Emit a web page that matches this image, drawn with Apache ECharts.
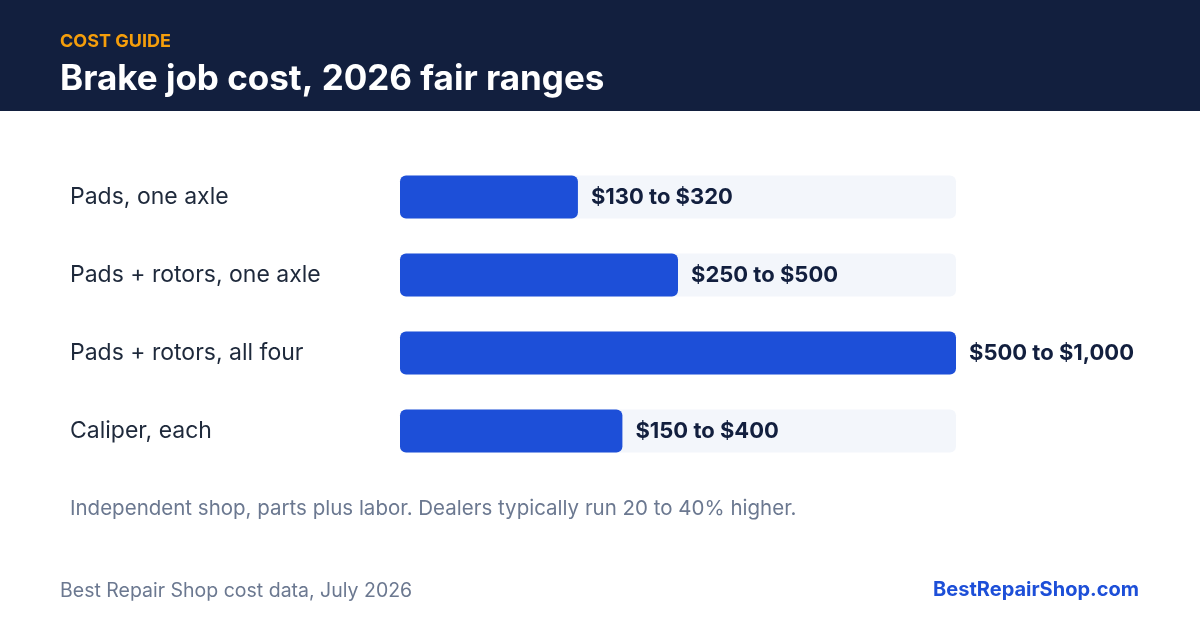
<!DOCTYPE html>
<html>
<head>
<meta charset="utf-8">
<script src="https://cdn.jsdelivr.net/npm/echarts@6/dist/echarts.min.js"></script>
<style>
  html, body { margin: 0; padding: 0; background: #ffffff; }
  #chart { width: 1200px; height: 630px; }
</style>
</head>
<body>
<div id="chart"></div>
<script>
const categories = ['Pads, one axle', 'Pads + rotors, one axle', 'Pads + rotors, all four', 'Caliper, each']
const lowCost = [130, 250, 500, 150]
const highCost = [320, 500, 1000, 400]

const fmt = (v) => '$' + v.toLocaleString('en-US')
const font = 'Inter, "Noto Sans", sans-serif'

const chart = echarts.init(document.getElementById('chart'))

const option = {
  backgroundColor: '#ffffff',
  animation: false,
  graphic: [
    { type: 'rect', z: 0, shape: { x: 0, y: 0, width: 1200, height: 111 }, style: { fill: '#121f3e' } },
    { type: 'text', z: 1, left: 60, top: 33, style: { text: 'COST GUIDE', fill: '#f59e0b', font: '700 18px ' + font } },
    { type: 'text', z: 1, left: 60, top: 62, style: { text: 'Brake job cost, 2026 fair ranges', fill: '#ffffff', font: '700 35px ' + font } },
    { type: 'text', left: 70, top: 498, style: { text: 'Independent shop, parts plus labor. Dealers typically run 20 to 40% higher.', fill: '#6b7890', font: '400 20.5px ' + font } },
    { type: 'text', left: 60, top: 581, style: { text: 'Best Repair Shop cost data, July 2026', fill: '#6b7890', font: '400 19.5px ' + font } },
    { type: 'text', right: 61, top: 580, style: { text: 'BestRepairShop.com', fill: '#1d4fd8', font: '700 20px ' + font } }
  ],
  grid: { left: 400, right: 244, top: 158, bottom: 160 },
  xAxis: {
    type: 'value', min: 0, max: 1000,
    show: false
  },
  yAxis: {
    type: 'category',
    data: categories,
    inverse: true,
    axisLine: { show: false },
    axisTick: { show: false },
    splitLine: { show: false },
    axisLabel: {
      align: 'left',
      margin: 330,
      color: '#1e293b',
      fontSize: 23,
      fontFamily: font,
      padding: [6, 0, 0, 0]
    }
  },
  series: [
    {
      type: 'bar',
      data: highCost,
      barWidth: 43,
      showBackground: true,
      backgroundStyle: { color: '#f3f6fb', borderRadius: 6 },
      itemStyle: { color: '#1d4fd8', borderRadius: 6 },
      label: {
        show: true,
        position: 'right',
        distance: 13,
        color: '#121f3e',
        fontSize: 22,
        fontWeight: 700,
        fontFamily: font,
        padding: [8, 0, 0, 0],
        formatter: (p) => fmt(lowCost[p.dataIndex]) + ' to ' + fmt(highCost[p.dataIndex])
      }
    }
  ]
}

chart.setOption(option)
</script>
</body>
</html>
